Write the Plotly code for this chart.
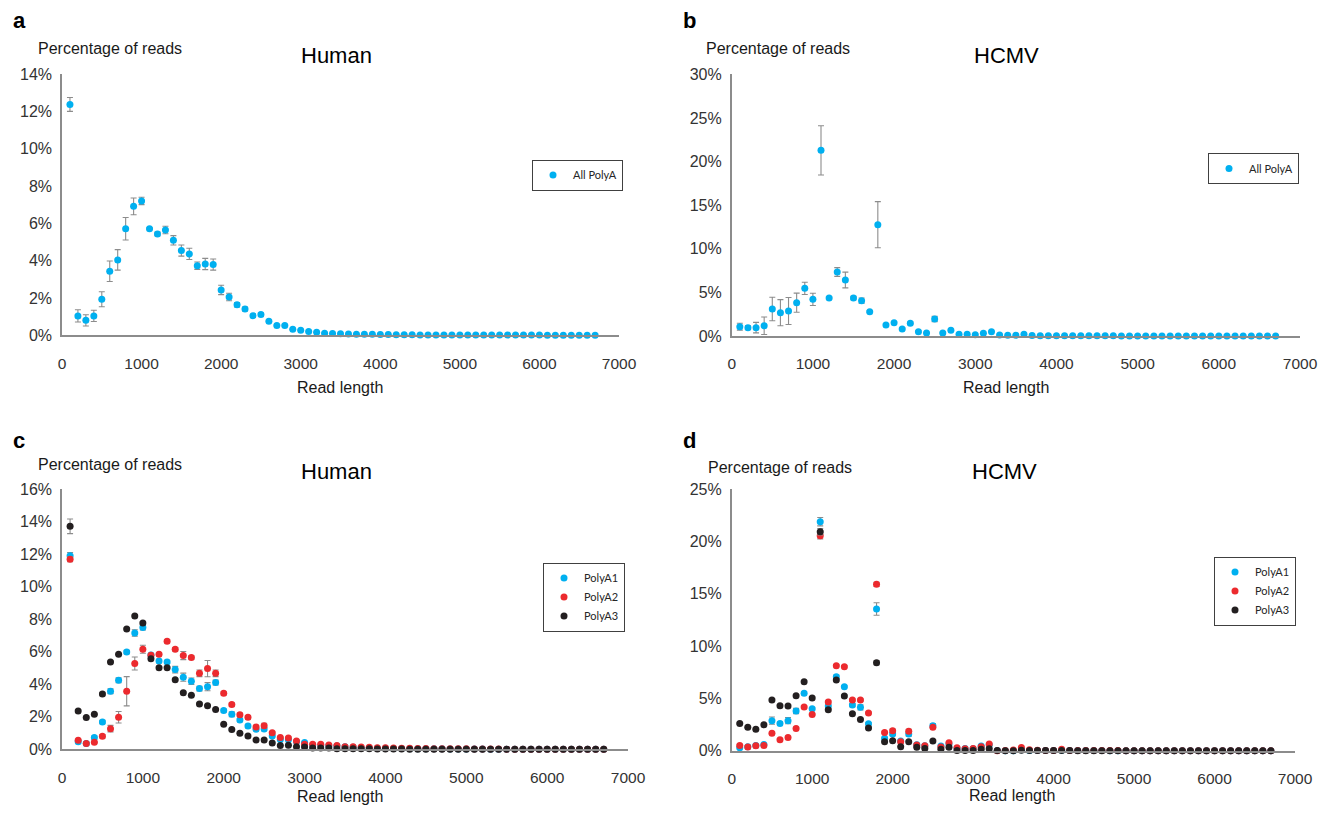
import plotly.graph_objects as go

# the page body has an 8px margin, so the figure is 16px smaller than the window
OFF = 8
W, H = 1333 - 2 * OFF, 815 - 2 * OFF

read_length = [100 * i for i in range(1, 68)]

# ---- Panel a: Human, all PolyA ----
human_all = [12.37, 1.04, 0.80, 1.04, 1.93, 3.43, 4.04, 5.71, 6.91, 7.20,
             5.71, 5.43, 5.64, 5.09, 4.54, 4.36, 3.73, 3.82, 3.79, 2.43,
             2.05, 1.64, 1.41, 1.05, 1.11, 0.75, 0.52, 0.52, 0.32, 0.27,
             0.20, 0.16, 0.11, 0.09, 0.08, 0.07, 0.06, 0.05, 0.05, 0.04,
             0.04, 0.03, 0.03, 0.03, 0.02, 0.02, 0.02, 0.02, 0.02, 0.01,
             0.01, 0.01, 0.01, 0.01, 0.01, 0.01, 0.01, 0.01, 0.01, 0.01,
             0.00, 0.00, 0.00, 0.00, 0.00, 0.00, 0.00]
human_all_err = [0.37, 0.33, 0.30, 0.30, 0.40, 0.55, 0.55, 0.60, 0.45, 0.20,
                 0.05, 0.10, 0.20, 0.25, 0.30, 0.30, 0.20, 0.30, 0.30, 0.25,
                 0.20, 0.12, 0.10, 0.08, 0.08, 0.05, 0.04, 0.04, 0.03, 0.03,
                 0.02, 0.02, 0.02, 0.02, 0.01, 0.01, 0.01, 0.01, 0.01, 0.01,
                 0.01, 0.01, 0.01, 0.01, 0.01, 0.01, 0.01, 0.01, 0.01, 0.01,
                 0.01, 0.01, 0.01, 0.01, 0.01, 0.01, 0.01, 0.01, 0.01, 0.01,
                 0.01, 0.01, 0.01, 0.01, 0.01, 0.01, 0.01]

# ---- Panel b: HCMV, all PolyA ----
hcmv_all = [1.07, 0.96, 0.96, 1.18, 3.10, 2.67, 2.87, 3.82, 5.46, 4.20,
            21.28, 4.36, 7.34, 6.42, 4.36, 4.05, 2.79, 12.76, 1.26, 1.53,
            0.80, 1.45, 0.50, 0.34, 1.95, 0.34, 0.65, 0.19, 0.19, 0.15,
            0.31, 0.50, 0.11, 0.08, 0.08, 0.20, 0.05, 0.04, 0.04, 0.03,
            0.03, 0.03, 0.02, 0.02, 0.02, 0.02, 0.02, 0.01, 0.01, 0.01,
            0.01, 0.01, 0.01, 0.01, 0.01, 0.01, 0.01, 0.01, 0.01, 0.00,
            0.00, 0.00, 0.00, 0.00, 0.00, 0.00, 0.00]
hcmv_all_err = [0.40, 0.20, 0.60, 1.00, 1.35, 1.50, 1.55, 1.10, 0.70, 0.70,
                2.83, 0.10, 0.50, 0.90, 0.20, 0.30, 0.10, 2.64, 0.10, 0.10,
                0.10, 0.15, 0.10, 0.05, 0.30, 0.05, 0.05, 0.03, 0.03, 0.03,
                0.03, 0.03, 0.02, 0.02, 0.02, 0.02, 0.01, 0.01, 0.01, 0.01,
                0.01, 0.01, 0.01, 0.01, 0.01, 0.01, 0.01, 0.01, 0.01, 0.01,
                0.01, 0.01, 0.01, 0.01, 0.01, 0.01, 0.01, 0.01, 0.01, 0.01,
                0.01, 0.01, 0.01, 0.01, 0.01, 0.01, 0.01]

# ---- Panel c: Human, replicates ----
human_p1 = [11.90, 0.47, 0.35, 0.72, 1.68, 3.57, 4.24, 5.98, 7.15, 7.48,
            5.80, 5.43, 5.37, 4.90, 4.43, 4.18, 3.73, 3.85, 4.10, 2.38,
            2.15, 1.80, 1.43, 1.23, 1.25, 0.82, 0.61, 0.59, 0.47, 0.42,
            0.27, 0.23, 0.22, 0.20, 0.15, 0.12, 0.10, 0.08, 0.07, 0.06,
            0.05, 0.05, 0.04, 0.04, 0.03, 0.03, 0.03, 0.02, 0.02, 0.02,
            0.02, 0.02, 0.01, 0.01, 0.01, 0.01, 0.01, 0.01, 0.01, 0.01,
            0.00, 0.00, 0.00, 0.00, 0.00, 0.00, 0.00]
human_p1_err = [0.20, 0.10, 0.10, 0.10, 0.10, 0.15, 0.15, 0.10, 0.20, 0.15,
                0.10, 0.10, 0.10, 0.20, 0.25, 0.20, 0.15, 0.25, 0.15, 0.10,
                0.15, 0.10, 0.10, 0.10, 0.10, 0.05, 0.05, 0.05, 0.05, 0.05,
                0.03, 0.03, 0.03, 0.03, 0.02, 0.02, 0.02, 0.02, 0.01, 0.01,
                0.01, 0.01, 0.01, 0.01, 0.01, 0.01, 0.01, 0.01, 0.01, 0.01,
                0.01, 0.01, 0.01, 0.01, 0.01, 0.01, 0.01, 0.01, 0.01, 0.01,
                0.01, 0.01, 0.01, 0.01, 0.01, 0.01, 0.01]
human_p2 = [11.68, 0.55, 0.35, 0.43, 0.80, 1.27, 1.97, 3.57, 5.27, 6.15,
            5.78, 5.84, 6.64, 6.15, 5.76, 5.64, 4.67, 4.96, 4.67, 3.44,
            2.75, 2.13, 1.97, 1.37, 1.45, 1.02, 0.72, 0.70, 0.51, 0.31,
            0.31, 0.31, 0.27, 0.23, 0.16, 0.15, 0.14, 0.12, 0.10, 0.09,
            0.08, 0.07, 0.06, 0.05, 0.05, 0.04, 0.04, 0.03, 0.03, 0.03,
            0.02, 0.02, 0.02, 0.02, 0.01, 0.01, 0.01, 0.01, 0.01, 0.01,
            0.01, 0.01, 0.00, 0.00, 0.00, 0.00, 0.00]
human_p2_err = [0.15, 0.05, 0.05, 0.05, 0.10, 0.20, 0.35, 0.90, 0.40, 0.25,
                0.10, 0.10, 0.10, 0.10, 0.25, 0.10, 0.20, 0.50, 0.20, 0.10,
                0.10, 0.10, 0.10, 0.10, 0.15, 0.05, 0.05, 0.05, 0.05, 0.03,
                0.03, 0.03, 0.03, 0.03, 0.02, 0.02, 0.02, 0.02, 0.01, 0.01,
                0.01, 0.01, 0.01, 0.01, 0.01, 0.01, 0.01, 0.01, 0.01, 0.01,
                0.01, 0.01, 0.01, 0.01, 0.01, 0.01, 0.01, 0.01, 0.01, 0.01,
                0.01, 0.01, 0.01, 0.01, 0.01, 0.01, 0.01]
human_p3 = [13.71, 2.36, 1.95, 2.15, 3.40, 5.37, 5.84, 7.40, 8.20, 7.77,
            5.57, 5.02, 5.02, 4.28, 3.48, 3.32, 2.79, 2.68, 2.44, 1.54,
            1.21, 0.98, 0.82, 0.57, 0.57, 0.39, 0.23, 0.25, 0.16, 0.14,
            0.08, 0.08, 0.08, 0.04, 0.04, 0.03, 0.03, 0.03, 0.02, 0.02,
            0.02, 0.02, 0.01, 0.01, 0.01, 0.01, 0.01, 0.01, 0.01, 0.01,
            0.01, 0.01, 0.01, 0.01, 0.00, 0.00, 0.00, 0.00, 0.00, 0.00,
            0.00, 0.00, 0.00, 0.00, 0.00, 0.00, 0.00]
human_p3_err = [0.45, 0.05, 0.05, 0.05, 0.10, 0.05, 0.05, 0.05, 0.05, 0.05,
                0.05, 0.05, 0.05, 0.05, 0.05, 0.05, 0.05, 0.05, 0.05, 0.05,
                0.05, 0.03, 0.03, 0.03, 0.03, 0.02, 0.02, 0.02, 0.02, 0.02,
                0.01, 0.01, 0.01, 0.01, 0.01, 0.01, 0.01, 0.01, 0.01, 0.01,
                0.01, 0.01, 0.01, 0.01, 0.01, 0.01, 0.01, 0.01, 0.01, 0.01,
                0.01, 0.01, 0.01, 0.01, 0.01, 0.01, 0.01, 0.01, 0.01, 0.01,
                0.01, 0.01, 0.01, 0.01, 0.01, 0.01, 0.01]

# ---- Panel d: HCMV, replicates ----
hcmv_p1 = [0.29, 0.38, 0.50, 0.60, 2.87, 2.61, 2.87, 3.79, 5.48, 4.01,
           21.88, 4.27, 7.07, 6.11, 4.36, 4.14, 2.58, 13.54, 1.18, 1.59,
           0.92, 1.59, 0.57, 0.48, 2.39, 0.45, 0.64, 0.22, 0.22, 0.19,
           0.45, 0.54, 0.03, 0.00, 0.00, 0.10, 0.02, 0.01, 0.01, 0.01,
           0.05, 0.01, 0.01, 0.01, 0.01, 0.01, 0.00, 0.00, 0.00, 0.00,
           0.00, 0.00, 0.00, 0.00, 0.00, 0.00, 0.00, 0.00, 0.00, 0.00,
           0.00, 0.00, 0.00, 0.00, 0.00, 0.00, 0.00]
hcmv_p1_err = [0.10, 0.10, 0.10, 0.10, 0.35, 0.15, 0.30, 0.25, 0.15, 0.10,
               0.40, 0.10, 0.15, 0.10, 0.15, 0.25, 0.10, 0.60, 0.10, 0.15,
               0.10, 0.20, 0.10, 0.10, 0.20, 0.10, 0.10, 0.05, 0.05, 0.05,
               0.05, 0.05, 0.02, 0.01, 0.01, 0.02, 0.01, 0.01, 0.01, 0.01,
               0.01, 0.01, 0.01, 0.01, 0.01, 0.01, 0.01, 0.01, 0.01, 0.01,
               0.01, 0.01, 0.01, 0.01, 0.01, 0.01, 0.01, 0.01, 0.01, 0.01,
               0.01, 0.01, 0.01, 0.01, 0.01, 0.01, 0.01]
hcmv_p2 = [0.50, 0.35, 0.48, 0.50, 1.66, 1.05, 1.27, 2.13, 4.17, 3.47,
           20.54, 4.65, 8.12, 8.03, 4.84, 4.84, 3.60, 15.89, 1.75, 1.91,
           0.86, 1.85, 0.54, 0.48, 2.23, 0.35, 0.76, 0.29, 0.19, 0.22,
           0.38, 0.64, 0.00, 0.03, 0.06, 0.30, 0.08, 0.05, 0.03, 0.03,
           0.15, 0.02, 0.02, 0.01, 0.01, 0.01, 0.01, 0.01, 0.00, 0.00,
           0.00, 0.00, 0.00, 0.00, 0.00, 0.00, 0.00, 0.00, 0.00, 0.00,
           0.00, 0.00, 0.00, 0.00, 0.00, 0.00, 0.00]
hcmv_p2_err = [0.10, 0.05, 0.05, 0.05, 0.10, 0.10, 0.10, 0.10, 0.10, 0.10,
               0.30, 0.10, 0.10, 0.10, 0.10, 0.10, 0.10, 0.20, 0.10, 0.15,
               0.05, 0.20, 0.05, 0.05, 0.10, 0.05, 0.05, 0.03, 0.03, 0.03,
               0.03, 0.03, 0.01, 0.01, 0.01, 0.02, 0.01, 0.01, 0.01, 0.01,
               0.01, 0.01, 0.01, 0.01, 0.01, 0.01, 0.01, 0.01, 0.01, 0.01,
               0.01, 0.01, 0.01, 0.01, 0.01, 0.01, 0.01, 0.01, 0.01, 0.01,
               0.01, 0.01, 0.01, 0.01, 0.01, 0.01, 0.01]
hcmv_p3 = [2.61, 2.23, 2.04, 2.48, 4.84, 4.30, 4.27, 5.25, 6.59, 5.03,
           20.92, 3.92, 6.75, 5.22, 3.54, 2.99, 2.17, 8.41, 0.86, 0.96,
           0.38, 0.86, 0.32, 0.22, 0.92, 0.13, 0.32, 0.03, 0.03, 0.03,
           0.13, 0.19, 0.03, 0.00, 0.00, 0.05, 0.01, 0.01, 0.01, 0.01,
           0.01, 0.01, 0.00, 0.00, 0.00, 0.00, 0.00, 0.00, 0.00, 0.00,
           0.00, 0.00, 0.00, 0.00, 0.00, 0.00, 0.00, 0.00, 0.00, 0.00,
           0.00, 0.00, 0.00, 0.00, 0.00, 0.00, 0.00]
hcmv_p3_err = [0.10, 0.05, 0.05, 0.05, 0.10, 0.10, 0.10, 0.10, 0.10, 0.10,
               0.30, 0.10, 0.10, 0.10, 0.10, 0.10, 0.10, 0.20, 0.05, 0.05,
               0.05, 0.05, 0.03, 0.03, 0.05, 0.02, 0.02, 0.01, 0.01, 0.01,
               0.01, 0.01, 0.01, 0.01, 0.01, 0.01, 0.01, 0.01, 0.01, 0.01,
               0.01, 0.01, 0.01, 0.01, 0.01, 0.01, 0.01, 0.01, 0.01, 0.01,
               0.01, 0.01, 0.01, 0.01, 0.01, 0.01, 0.01, 0.01, 0.01, 0.01,
               0.01, 0.01, 0.01, 0.01, 0.01, 0.01, 0.01]

BLUE = "#00B0F0"
RED = "#EC2A2E"
BLACK = "#231F20"
ERR = "#8C8C8C"
AXIS = "#8C8C8C"
TXT = "#333333"
FONT = "Liberation Sans, Arial, sans-serif"
LEGFONT = "Lato, Carlito, sans-serif"


def px_x(v):
    return (v - OFF) / W


def px_y(v):
    return 1 - (v - OFF) / H


fig = go.Figure()


def add(y, err, color, name, axis_idx, legend):
    sfx = "" if axis_idx == 1 else str(axis_idx)
    fig.add_trace(go.Scatter(
        x=read_length, y=y, mode="markers", name=name, showlegend=True,
        marker=dict(color=color, size=7),
        error_y=dict(type="data", array=err, color=ERR, thickness=1.1, width=3),
        xaxis="x" + sfx, yaxis="y" + sfx, legend=legend, cliponaxis=False,
    ))


add(human_all, human_all_err, BLUE, "All PolyA", 1, "legend")
add(hcmv_all, hcmv_all_err, BLUE, "All PolyA", 2, "legend2")
add(human_p1, human_p1_err, BLUE, "PolyA1", 3, "legend3")
add(human_p2, human_p2_err, RED, "PolyA2", 3, "legend3")
add(human_p3, human_p3_err, BLACK, "PolyA3", 3, "legend3")
add(hcmv_p1, hcmv_p1_err, BLUE, "PolyA1", 4, "legend4")
add(hcmv_p2, hcmv_p2_err, RED, "PolyA2", 4, "legend4")
add(hcmv_p3, hcmv_p3_err, BLACK, "PolyA3", 4, "legend4")

# panel geometry in window pixels: (x0, x1, ytop, ybottom, ymax, ydtick)
panels = [
    (62, 619, 74, 335.3, 14, 2),
    (731.7, 1300, 74.3, 336, 30, 5),
    (62, 628, 489, 749.3, 16, 2),
    (731.7, 1295, 489, 750.7, 25, 5),
]

layout = dict(
    width=W, height=H, margin=dict(l=0, r=0, t=0, b=0, pad=0),
    plot_bgcolor="white", paper_bgcolor="white", showlegend=True,
    font=dict(family=FONT, color=TXT),
)
for i, (x0, x1, yt, yb, ymax, dt) in enumerate(panels, start=1):
    sfx = "" if i == 1 else str(i)
    layout["xaxis" + sfx] = dict(
        domain=[px_x(x0), px_x(x1)], anchor="y" + sfx, range=[0, 7000],
        dtick=1000, tick0=0, showgrid=False, zeroline=False, automargin=False,
        showline=True, linecolor=AXIS, linewidth=1.5,
        ticks="outside", ticklen=13, tickcolor="rgba(0,0,0,0)",
        tickfont=dict(size=15.5, color=TXT, family=FONT),
    )
    layout["yaxis" + sfx] = dict(
        domain=[px_y(yb), px_y(yt)], anchor="x" + sfx, range=[0, ymax],
        dtick=dt, tick0=0, ticksuffix="%", showgrid=False, zeroline=False,
        automargin=False,
        showline=True, linecolor=AXIS, linewidth=1.5,
        ticks="outside", ticklen=5, tickcolor="rgba(0,0,0,0)",
        tickfont=dict(size=16, color=TXT, family=FONT),
    )

leg_common = dict(
    bgcolor="white", bordercolor="#404040", borderwidth=1,
    font=dict(size=11, family=LEGFONT, color="#262626"),
    itemwidth=30, xanchor="right", yanchor="middle", tracegroupgap=0,
    visible=True,
)
layout["legend"] = dict(x=px_x(623), y=px_y(175), **leg_common)
layout["legend2"] = dict(x=px_x(1299), y=px_y(168.5), **leg_common)
layout["legend3"] = dict(x=px_x(625), y=px_y(597), **leg_common)
layout["legend4"] = dict(x=px_x(1296), y=px_y(591), **leg_common)

fig.update_layout(**layout)

ann = []


def text(s, x, y, size, xanchor="center", bold=False, color="black"):
    ann.append(dict(
        text="<b>%s</b>" % s if bold else s, x=px_x(x), y=px_y(y),
        xref="paper", yref="paper", showarrow=False, xanchor=xanchor,
        yanchor="middle", font=dict(size=size, family=FONT, color=color),
    ))


for lx, ly, label in [(11, 20, "a"), (681, 20, "b"), (11, 440, "c"), (681, 440, "d")]:
    text(label, lx, ly, 22, xanchor="left", bold=True)
text("Human", 336, 55, 22)
text("HCMV", 1006, 55, 22)
text("Human", 336, 472, 22)
text("HCMV", 1004, 472, 22)
for x, y in [(36, 49), (704, 49), (36, 465), (706, 467)]:
    text("Percentage of reads", x, y, 16, xanchor="left", color="#1a1a1a")
for x, y in [(340, 387), (1006, 387), (340, 796), (1012, 795)]:
    text("Read length", x, y, 16, color="#1a1a1a")

fig.update_layout(annotations=ann)
fig.write_html("out.html")
